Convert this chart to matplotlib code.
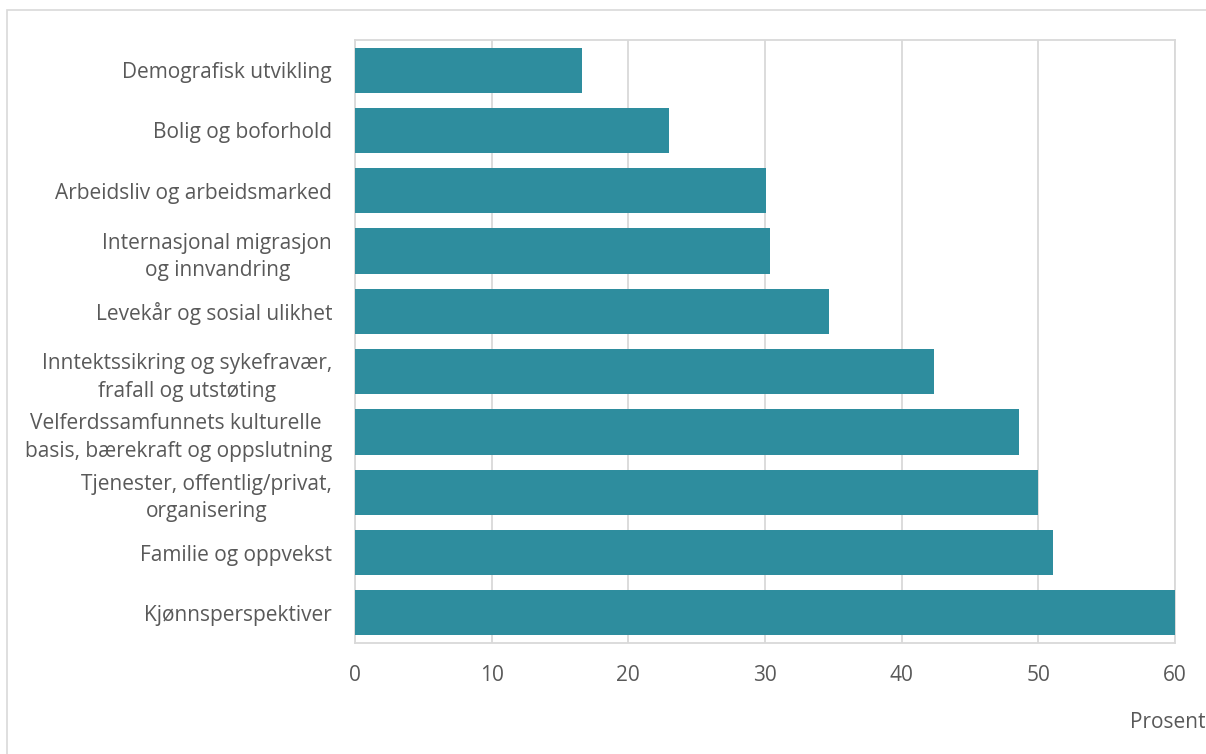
import matplotlib.pyplot as plt
from matplotlib.patches import Rectangle

categories = [
    "Demografisk utvikling",
    "Bolig og boforhold",
    "Arbeidsliv og arbeidsmarked",
    "Internasjonal migrasjon\nog innvandring",
    "Levekår og sosial ulikhet",
    "Inntektssikring og sykefravær,\nfrafall og utstøting",
    "Velferdssamfunnets kulturelle \nbasis, bærekraft og oppslutning",
    "Tjenester, offentlig/privat,\norganisering",
    "Familie og oppvekst",
    "Kjønnsperspektiver",
]
values = [16.6, 23.0, 30.1, 30.4, 34.7, 42.4, 48.6, 50.0, 51.1, 60.0]
xticks = [0, 10, 20, 30, 40, 50, 60]

bar_color = "#2e8d9e"
text_color = "#595959"
grid_color = "#d9d9d9"

plt.rcParams['font.family'] = ['Open Sans', 'DejaVu Sans']

fig = plt.figure(figsize=(12.06, 7.54), dpi=100)
ax = fig.add_axes([355 / 1206, 1 - 643 / 754, 820 / 1206, 603 / 754])

# outer light frame of the chart area
fig.patches.append(Rectangle((7 / 1206, -0.05), 1.1, 1 - 10 / 754 + 0.05,
                             transform=fig.transFigure, fill=False,
                             edgecolor="#d9d9d9", linewidth=1.2))

ypos = list(range(len(categories)))
ax.barh(ypos, values, height=0.75, color=bar_color, zorder=3)
ax.set_ylim(len(categories) - 0.5, -0.5)
ax.set_xlim(0, 60)
ax.set_xticks(xticks)
ax.set_yticks(ypos)
ax.set_yticklabels(categories, multialignment='center', linespacing=1.4)
ax.tick_params(axis='both', length=0, labelsize=15, colors=text_color)
ax.tick_params(axis='y', pad=16.5)
ax.tick_params(axis='x', pad=16)
ax.grid(axis='x', color=grid_color, linewidth=1.3, zorder=0)
for s in ax.spines.values():
    s.set_color(grid_color)
    s.set_linewidth(1.3)

fig.text(1206 / 1206, 1 - 722 / 754, "Prosent", ha='right', va='center',
         fontsize=15, color=text_color)

fig.savefig("out.png", dpi=100)
